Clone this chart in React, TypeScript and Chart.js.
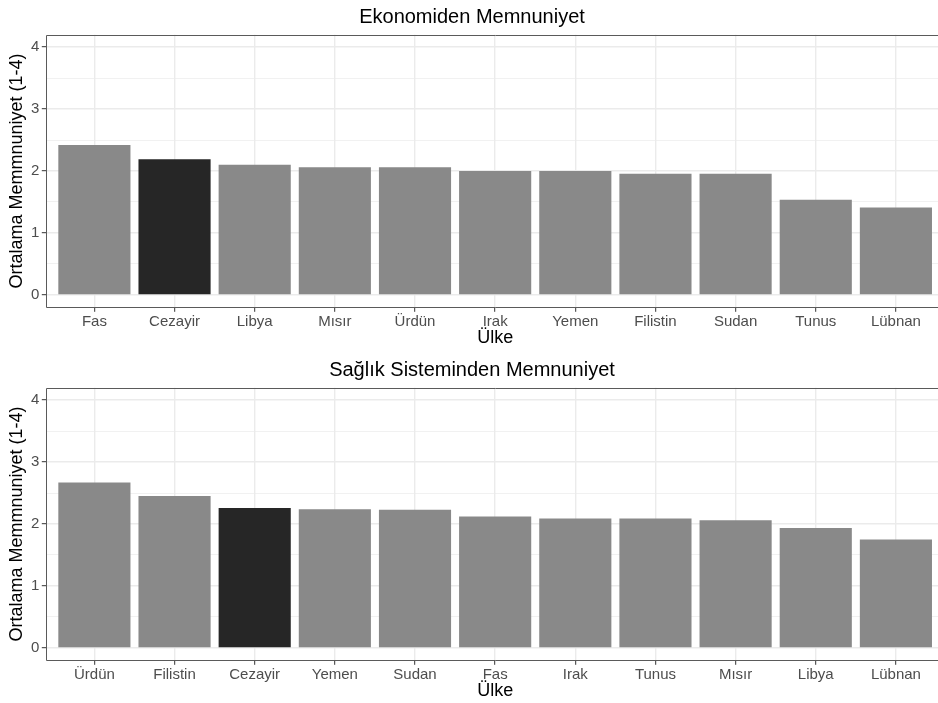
import React, { useEffect, useRef } from "react";
import { Chart, registerables } from "chart.js";

Chart.register(...registerables);

const econTitle = "Ekonomiden Memnuniyet";
const econCountries = ["Fas", "Cezayir", "Libya", "Mısır", "Ürdün", "Irak", "Yemen", "Filistin", "Sudan", "Tunus", "Lübnan"];
const econValues = [2.42, 2.19, 2.1, 2.06, 2.06, 2.0, 2.0, 1.955, 1.955, 1.535, 1.41];

const healthTitle = "Sağlık Sisteminden Memnuniyet";
const healthCountries = ["Ürdün", "Filistin", "Cezayir", "Yemen", "Sudan", "Fas", "Irak", "Tunus", "Mısır", "Libya", "Lübnan"];
const healthValues = [2.67, 2.45, 2.26, 2.24, 2.23, 2.12, 2.09, 2.09, 2.06, 1.935, 1.75];

const highlightCountry = "Cezayir";
const yTitle = "Ortalama Memmnuniyet (1-4)";
const xTitle = "Ülke";

const FONT = "'Liberation Sans', Arial, Helvetica, sans-serif";
const CANVAS_W = 944;
const CANVAS_H = 350;
const TITLE_H = 34.7;
const PLOT_H = 272.6;
const Y_AXIS_W = 46.3;

const panelBorder = {
  id: "panelBorder",
  afterDraw(chart: any) {
    const { ctx, chartArea } = chart;
    const l = Math.round(chartArea.left) + 0.5;
    const t = Math.round(chartArea.top) + 0.5;
    const b = Math.round(chartArea.bottom) + 0.5;
    const r = Math.round(chartArea.right) + 0.5;
    ctx.save();
    ctx.strokeStyle = "#5a5a5a";
    ctx.lineWidth = 1;
    ctx.beginPath();
    ctx.moveTo(r, t);
    ctx.lineTo(l, t);
    ctx.lineTo(l, b);
    ctx.lineTo(r, b);
    ctx.stroke();
    ctx.restore();
  },
};

function Panel({ title, countries, values, top }: { title: string; countries: string[]; values: number[]; top: number }) {
  const ref = useRef<HTMLCanvasElement | null>(null);
  useEffect(() => {
    if (!ref.current) return;
    const chart = new Chart(ref.current, {
      type: "bar",
      data: {
        datasets: [
          {
            data: values.map((v, i) => ({ x: i, y: v })),
            backgroundColor: countries.map((c) => (c === highlightCountry ? "#262626" : "#898989")),
            borderWidth: 0,
            barPercentage: 0.9,
            categoryPercentage: 1,
          },
        ],
      },
      options: {
        animation: false,
        responsive: false,
        devicePixelRatio: 1,
        layout: { padding: 0 },
        plugins: {
          legend: { display: false },
          tooltip: { enabled: false },
          title: {
            display: true,
            text: title,
            color: "#000",
            font: { family: FONT, size: 20, weight: "normal" },
            padding: { top: 5.5, bottom: 5.2 },
          },
        },
        scales: {
          x: {
            type: "linear",
            offset: false,
            min: -0.6,
            max: 10.6,
            afterFit: (s: any) => {
              s.height = CANVAS_H - TITLE_H - PLOT_H;
              s.paddingLeft = 0;
              s.paddingRight = 0;
            },
            ticks: {
              stepSize: 1,
              includeBounds: false,
              autoSkip: false,
              maxRotation: 0,
              minRotation: 0,
              padding: 1,
              color: "#4D4D4D",
              font: { family: FONT, size: 15 },
              callback: (v: any) => countries[v as number] ?? "",
            },
            grid: {
              offset: false,
              color: "#EBEBEB",
              lineWidth: 1.4,
              tickLength: 4.5,
              tickColor: "#333333",
              tickWidth: 1,
            },
            border: { display: false },
            title: {
              display: true,
              text: xTitle,
              color: "#000",
              font: { family: FONT, size: 18 },
              padding: { top: 0, bottom: 0.7 },
            },
          },
          y: {
            type: "linear",
            min: -0.2,
            max: 4.2,
            afterFit: (s: any) => {
              s.width = Y_AXIS_W;
            },
            ticks: {
              stepSize: 0.5,
              includeBounds: false,
              padding: 2.5,
              color: "#4D4D4D",
              font: { family: FONT, size: 15 },
              callback: (v: any) => (Number(v) % 1 === 0 ? String(v) : ""),
            },
            grid: {
              color: "#EBEBEB",
              lineWidth: (c: any) => (c.tick && c.tick.value % 1 === 0 ? 1.4 : 0.7),
              tickLength: 4.5,
              tickColor: (c: any) => (c.tick && c.tick.value % 1 === 0 ? "#333333" : "rgba(0,0,0,0)"),
              tickWidth: 1,
            },
            border: { display: false },
            title: {
              display: true,
              text: yTitle,
              color: "#000",
              font: { family: FONT, size: 18 },
              padding: { top: 6.7, bottom: 0 },
            },
          },
        },
      } as any,
      plugins: [panelBorder],
    });
    return () => chart.destroy();
  }, [title, countries, values]);
  return (
    <div style={{ position: "absolute", left: 0, top, width: CANVAS_W, height: CANVAS_H }}>
      <canvas
        ref={ref}
        width={CANVAS_W}
        height={CANVAS_H}
        style={{ display: "block", width: CANVAS_W, height: CANVAS_H }}
      />
    </div>
  );
}

export default function App() {
  return (
    <div
      style={{
        position: "fixed",
        left: 0,
        top: 0,
        width: 938,
        height: 703,
        overflow: "hidden",
        background: "#fff",
      }}
    >
      <div style={{ position: "absolute", left: 0, top: 0, width: CANVAS_W, height: 703 }}>
        <Panel title={econTitle} countries={econCountries} values={econValues} top={0} />
        <Panel title={healthTitle} countries={healthCountries} values={healthValues} top={353} />
      </div>
    </div>
  );
}
